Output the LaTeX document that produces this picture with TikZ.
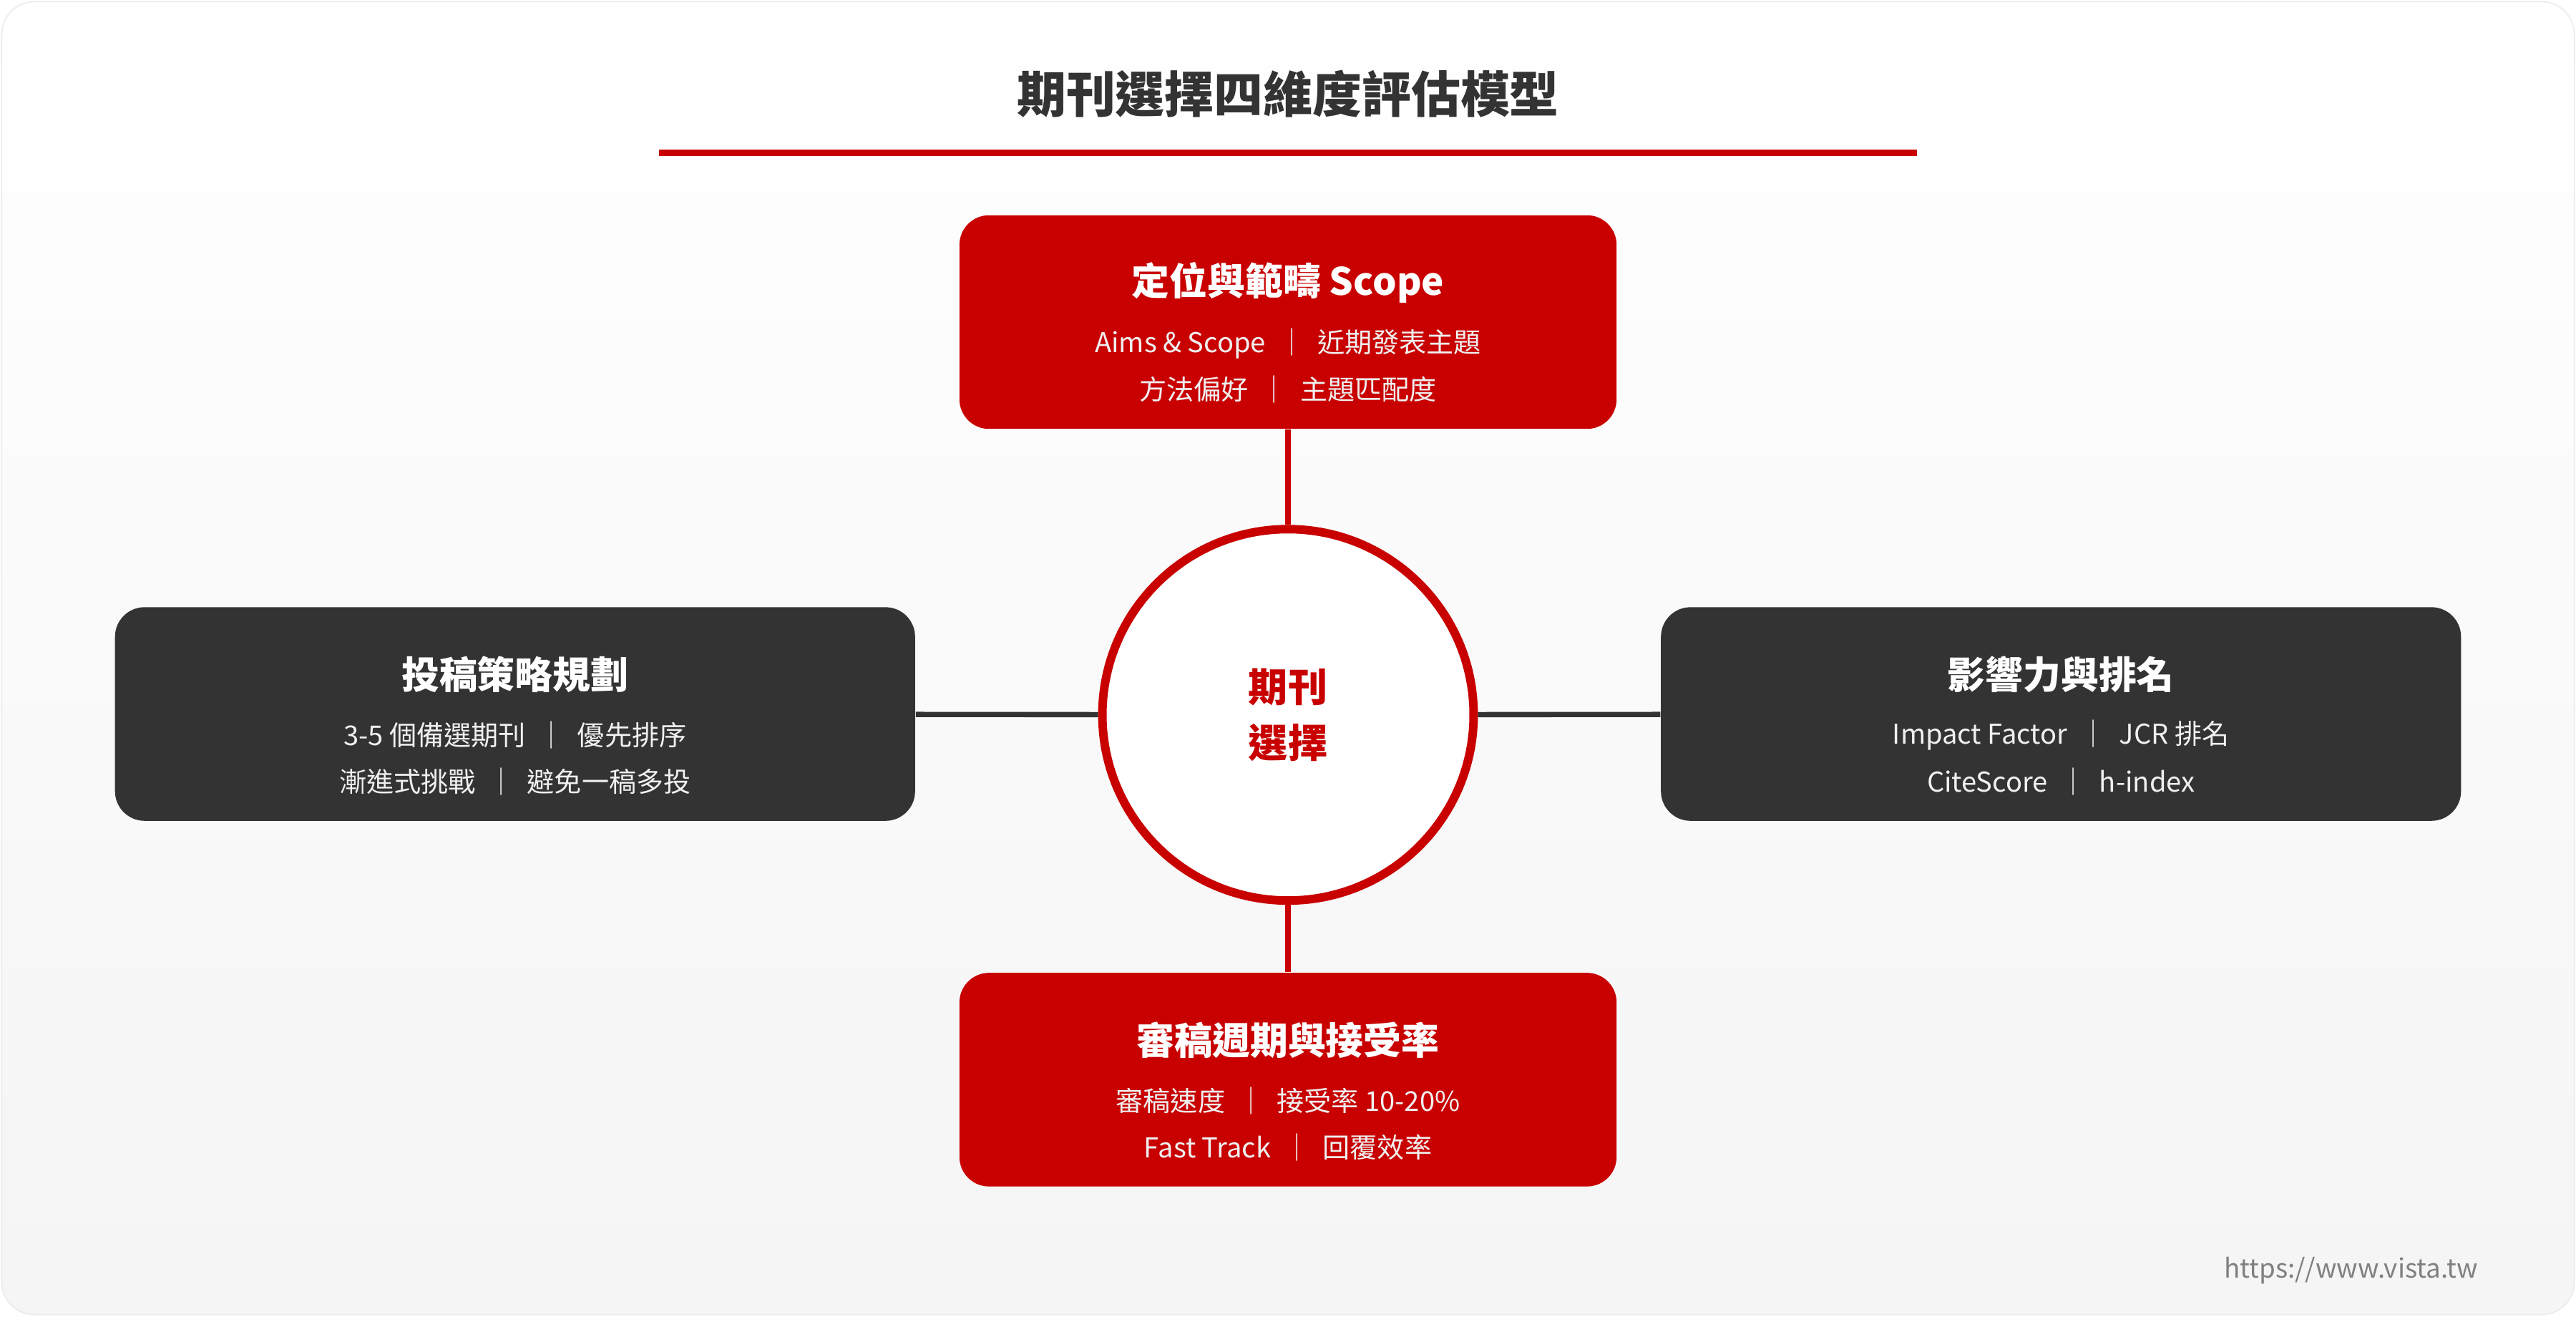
\documentclass[tikz,border=0pt]{standalone}
\usepackage{fontspec}
\setmainfont{Noto Sans CJK TC}
\usetikzlibrary{positioning}
\definecolor{vred}{HTML}{C80000}
\definecolor{vdark}{HTML}{333333}
\tikzset{
  card/.style={rounded corners=9pt, minimum width=#1, minimum height=65pt, inner sep=0pt},
  cardtitle/.style={font=\bfseries\fontsize{11.5}{13}\selectfont, text=white},
  cardline/.style={font=\fontsize{8.3}{10}\selectfont, text=white!88!gray},
  link/.style={line width=1.6pt}
}
\begin{document}
\begin{tikzpicture}[x=0.5pt,y=-0.5pt]
  % background
  \useasboundingbox (0,0) rectangle (1568,801);
  \shade[top color=white, bottom color=gray!8, rounded corners=10pt, draw=gray!15] (1,1) rectangle (1567,800);

  % title
  \node[font=\bfseries\fontsize{15}{18}\selectfont, text=vdark] (title) at (784,57) {期刊選擇四維度評估模型};
  \draw[vred, line width=2pt] (401,93) -- (1167,93);

  % center
  \node[circle, draw=vred, line width=2.6pt, fill=white, minimum size=113pt] (hub) at (784,435) {};
  \node[font=\bfseries\fontsize{12}{17}\selectfont, text=vred, align=center] at (hub) {期刊\\選擇};

  % cards
  \node[card=200pt, fill=vred] (scope) at (784,196) {};
  \node[card=200pt, fill=vred] (review) at (784,657) {};
  \node[card=243.5pt, fill=vdark] (plan) at (313.5,434.5) {};
  \node[card=243.5pt, fill=vdark] (impact) at (1254.5,434.5) {};

  % connectors
  \draw[link, vred] (scope) -- (hub);
  \draw[link, vred] (review) -- (hub);
  \draw[link, vdark] (plan) -- (hub);
  \draw[link, vdark] (impact) -- (hub);

  % card texts
  \node[cardtitle] at ([yshift=12pt]scope.center) {定位與範疇 Scope};
  \node[cardline] at ([yshift=-6.5pt]scope.center) {Aims \& Scope \ ｜ \ 近期發表主題};
  \node[cardline] at ([yshift=-20.5pt]scope.center) {方法偏好 \ ｜ \ 主題匹配度};

  \node[cardtitle] at ([yshift=12pt]review.center) {審稿週期與接受率};
  \node[cardline] at ([yshift=-6.5pt]review.center) {審稿速度 \ ｜ \ 接受率 10-20\%};
  \node[cardline] at ([yshift=-20.5pt]review.center) {Fast Track \ ｜ \ 回覆效率};

  \node[cardtitle] at ([yshift=12pt]plan.center) {投稿策略規劃};
  \node[cardline] at ([yshift=-6.5pt]plan.center) {3-5 個備選期刊 \ ｜ \ 優先排序};
  \node[cardline] at ([yshift=-20.5pt]plan.center) {漸進式挑戰 \ ｜ \ 避免一稿多投};

  \node[cardtitle] at ([yshift=12pt]impact.center) {影響力與排名};
  \node[cardline] at ([yshift=-6.5pt]impact.center) {Impact Factor \ ｜ \ JCR 排名};
  \node[cardline] at ([yshift=-20.5pt]impact.center) {CiteScore \ ｜ \ h-index};

  % footer
  \node[font=\fontsize{8}{10}\selectfont, text=gray] (url) at (1431,773) {https://www.vista.tw};
\end{tikzpicture}
\end{document}
